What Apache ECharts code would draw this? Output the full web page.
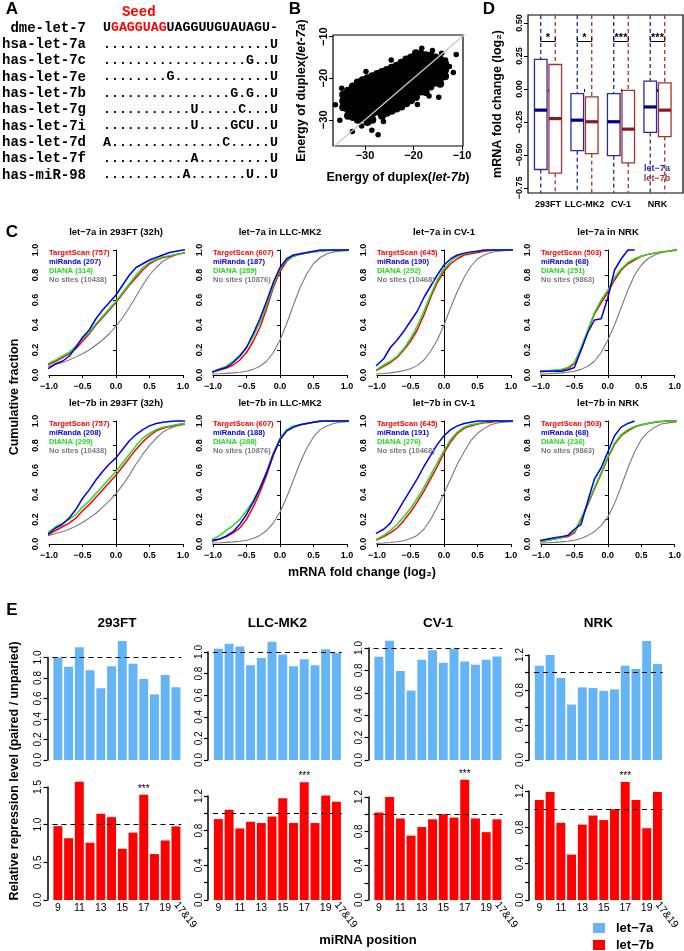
<!DOCTYPE html>
<html><head><meta charset="utf-8">
<script src="https://cdn.jsdelivr.net/npm/echarts@6/dist/echarts.min.js"></script>
<style>html,body{margin:0;padding:0;background:#fff}#c{width:684px;height:951px}</style>
</head><body><div id="c"></div>
<script>
// ================= DATA =================
// Panel A: alignment
const mirNames = ['dme-let-7','hsa-let-7a','has-let-7c','has-let-7e','has-let-7b','has-let-7g','has-let-7i','has-let-7d','has-let-7f','has-miR-98'];
const mirSeqs = [
  'UGAGGUAGUAGGUUGUAUAGU-',
  '.....................U',
  '..................G..U',
  '........G............U',
  '................G.G..U',
  '...........U.....C...U',
  '...........U....GCU..U',
  'A..............C.....U',
  '...........A.........U',
  '..........A.......U..U'
];
const seedStart = 1, seedLen = 7;

// Panel B: duplex energies (let-7b, let-7a)
const bCore = [
[-34.5,-24],[-34.5,-25.5],[-34.5,-27],
[-33.5,-23],[-33.5,-24.5],[-33.5,-26],[-33.5,-27.5],[-33.5,-29],
[-32.5,-22],[-32.5,-23.5],[-32.5,-25],[-32.5,-26.5],[-32.5,-28],[-32.5,-29.3],
[-31.5,-21],[-31.5,-22.5],[-31.5,-24],[-31.5,-25.5],[-31.5,-27],[-31.5,-28.5],[-31.5,-30],
[-30.5,-20.5],[-30.5,-22],[-30.5,-23.5],[-30.5,-25],[-30.5,-26.5],[-30.5,-28],[-30.5,-29.5],
[-29.5,-20],[-29.5,-21.5],[-29.5,-23],[-29.5,-24.5],[-29.5,-26],[-29.5,-27.5],[-29.5,-29],[-29.5,-30.5],
[-28.5,-19.5],[-28.5,-21],[-28.5,-22.5],[-28.5,-24],[-28.5,-25.5],[-28.5,-27],[-28.5,-28.5],[-28.5,-30],
[-27.5,-19],[-27.5,-20.5],[-27.5,-22],[-27.5,-23.5],[-27.5,-25],[-27.5,-26.5],[-27.5,-28],
[-26.5,-18.5],[-26.5,-20],[-26.5,-21.5],[-26.5,-23],[-26.5,-24.5],[-26.5,-26],[-26.5,-27.5],[-26.5,-29],
[-25.5,-18],[-25.5,-19.5],[-25.5,-21],[-25.5,-22.5],[-25.5,-24],[-25.5,-25.5],[-25.5,-27],[-25.5,-28.3],
[-24.5,-17.5],[-24.5,-19],[-24.5,-20.5],[-24.5,-22],[-24.5,-23.5],[-24.5,-25],[-24.5,-26.5],[-24.5,-27.8],
[-23.5,-17],[-23.5,-18.5],[-23.5,-20],[-23.5,-21.5],[-23.5,-23],[-23.5,-24.5],[-23.5,-26],[-23.5,-27.3],
[-22.5,-16.3],[-22.5,-17.8],[-22.5,-19.3],[-22.5,-20.8],[-22.5,-22.3],[-22.5,-23.8],[-22.5,-25.3],[-22.5,-26.8],
[-21.5,-15.5],[-21.5,-17],[-21.5,-18.5],[-21.5,-20],[-21.5,-21.5],[-21.5,-23],[-21.5,-24.5],[-21.5,-26],
[-20.5,-15],[-20.5,-16.5],[-20.5,-18],[-20.5,-19.5],[-20.5,-21],[-20.5,-22.5],[-20.5,-24],[-20.5,-25.3],
[-19.5,-14],[-19.5,-15.5],[-19.5,-17],[-19.5,-18.5],[-19.5,-20],[-19.5,-21.5],[-19.5,-23],[-19.5,-24.5],
[-18.5,-14.2],[-18.5,-15.7],[-18.5,-17.2],[-18.5,-18.7],[-18.5,-20.2],[-18.5,-21.7],[-18.5,-23.2],
[-17.5,-14.5],[-17.5,-16],[-17.5,-17.5],[-17.5,-19],[-17.5,-20.5],[-17.5,-22],[-17.5,-23.3],
[-16.5,-14.6],[-16.5,-16.1],[-16.5,-17.6],[-16.5,-19.1],[-16.5,-20.6],[-16.5,-22],
[-15.5,-15],[-15.5,-16.5],[-15.5,-18],[-15.5,-19.5],[-15.5,-21],
[-14.5,-15.5],[-14.5,-17],[-14.5,-18.5],[-14.5,-20],[-14.5,-21.3],
[-13.5,-16.5],[-13.5,-18],[-13.5,-19.5]
];
const bOut = [[-36.1,-26.4],[-35.2,-30.1],[-34.8,-22.4],[-32.6,-32.8],[-30.7,-31.5],[-28.6,-32.5],[-27.3,-33.6],[-26.2,-30.4],
[-18.3,-12.8],[-16.1,-13.3],[-14.2,-14.0],[-13.4,-15.6],[-12.6,-17.2],[-11.8,-18.6],[-14.8,-24.6],[-16.8,-24.3],[-19.2,-26.3],[-24.6,-15.6],[-29.8,-18.4],[-11.2,-14.3]];
const bDiag = [[-37,-37],[-9,-9]];
const bTicks = [-30,-20,-10];

// Panel D: boxplots
const dCells = ['293FT','LLC-MK2','CV-1','NRK'];
const d7aLo  = [-1.30,-1.10,-1.20,-0.95];
const d7aQ1  = [-0.610,-0.467,-0.505,-0.329];
const d7aMed = [-0.160,-0.236,-0.248,-0.136];
const d7aQ3  = [0.224,-0.035,-0.035,0.060];
const d7aHi  = [1.00,0.65,0.70,0.60];
const d7bLo  = [-1.35,-1.15,-1.30,-1.00];
const d7bQ1  = [-0.638,-0.490,-0.560,-0.360];
const d7bMed = [-0.224,-0.248,-0.304,-0.160];
const d7bQ3  = [0.186,-0.060,-0.010,0.047];
const d7bHi  = [0.95,0.60,0.75,0.60];
const dSig = ['*','*','***','***'];
const dTicks = [-0.75,-0.5,-0.25,0,0.25,0.5];

// Panel C: cumulative distributions
const cdfX = [-1.08,-1.0,-0.9,-0.8,-0.7,-0.6,-0.5,-0.4,-0.3,-0.2,-0.1,0,0.1,0.2,0.3,0.4,0.5,0.6,0.7,0.8,0.9,1.0,1.08];
const cCells = ['293FT (32h)','LLC-MK2','CV-1','NRK'];
const cTS7a = [757,607,645,503], cMR7a = [207,187,190,68], cDI7a = [314,289,292,251], cNS7a = [10438,10876,10468,9863];
const cTS7b = [757,607,645,503], cMR7b = [208,188,191,68], cDI7b = [299,288,276,236], cNS7b = [10438,10876,10468,9863];

const c7a293NS = [0.06,0.07,0.085,0.10,0.12,0.145,0.17,0.20,0.24,0.28,0.33,0.39,0.46,0.54,0.63,0.72,0.80,0.86,0.91,0.94,0.96,0.975,0.98];
const c7a293TS = [0.07,0.085,0.11,0.14,0.17,0.21,0.27,0.33,0.40,0.46,0.52,0.58,0.65,0.72,0.78,0.84,0.89,0.92,0.94,0.95,0.965,0.975,0.98];
const c7a293DI = [0.08,0.095,0.12,0.15,0.18,0.23,0.29,0.34,0.41,0.47,0.53,0.59,0.66,0.73,0.80,0.86,0.90,0.925,0.945,0.955,0.965,0.975,0.98];
const c7a293MR = [0.04,0.055,0.09,0.11,0.15,0.22,0.30,0.36,0.45,0.52,0.58,0.64,0.72,0.80,0.86,0.89,0.92,0.94,0.96,0.98,0.99,1.0,1.0];

const c7aLLCNS = [0.005,0.008,0.01,0.013,0.017,0.022,0.03,0.045,0.07,0.11,0.18,0.28,0.41,0.56,0.70,0.81,0.89,0.94,0.97,0.985,0.99,0.995,1.0];
const c7aLLCTS = [0.02,0.025,0.04,0.055,0.08,0.12,0.18,0.27,0.38,0.53,0.70,0.83,0.91,0.95,0.965,0.975,0.985,0.99,0.995,1.0,1.0,1.0,1.0];
const c7aLLCDI = [0.02,0.03,0.05,0.07,0.11,0.16,0.22,0.31,0.42,0.56,0.72,0.85,0.92,0.95,0.965,0.975,0.985,0.99,0.995,1.0,1.0,1.0,1.0];
const c7aLLCMR = [0.02,0.025,0.045,0.06,0.10,0.15,0.22,0.33,0.45,0.59,0.74,0.86,0.93,0.96,0.97,0.98,0.99,1.0,1.0,1.0,1.0,1.0,1.0];

const c7aCV1NS = [0.005,0.008,0.012,0.017,0.025,0.035,0.05,0.075,0.12,0.19,0.28,0.40,0.54,0.67,0.78,0.87,0.93,0.96,0.98,0.99,0.995,1.0,1.0];
const c7aCV1TS = [0.03,0.04,0.07,0.10,0.14,0.20,0.27,0.36,0.48,0.62,0.74,0.83,0.89,0.93,0.96,0.97,0.98,0.99,0.995,1.0,1.0,1.0,1.0];
const c7aCV1DI = [0.03,0.045,0.08,0.11,0.15,0.21,0.29,0.39,0.51,0.64,0.76,0.85,0.91,0.95,0.97,0.98,0.99,0.995,1.0,1.0,1.0,1.0,1.0];
const c7aCV1MR = [0.06,0.08,0.13,0.22,0.28,0.35,0.43,0.51,0.62,0.71,0.80,0.88,0.93,0.96,0.975,0.985,0.99,1.0,1.0,1.0,1.0,1.0,1.0];

const c7aNRKNS = [0.005,0.007,0.01,0.013,0.017,0.022,0.03,0.045,0.07,0.11,0.18,0.28,0.40,0.54,0.68,0.80,0.88,0.93,0.96,0.98,0.99,0.995,1.0];
const c7aNRKTS = [0.02,0.025,0.03,0.035,0.04,0.05,0.09,0.20,0.35,0.49,0.58,0.66,0.76,0.84,0.89,0.92,0.95,0.965,0.975,0.985,0.99,1.0,1.0];
const c7aNRKDI = [0.02,0.03,0.035,0.04,0.045,0.06,0.10,0.22,0.36,0.50,0.60,0.68,0.78,0.85,0.90,0.93,0.95,0.965,0.975,0.985,0.99,1.0,1.0];
const c7aNRKMR = [0.03,0.03,0.03,0.03,0.03,0.04,0.06,0.20,0.34,0.44,0.45,0.62,0.84,0.93,1.0,1.0,null,null,null,null,null,null,null];

const c7b293NS = [0.06,0.07,0.085,0.10,0.12,0.145,0.175,0.21,0.25,0.30,0.35,0.41,0.48,0.56,0.65,0.73,0.80,0.86,0.91,0.94,0.96,0.97,0.975];
const c7b293TS = [0.07,0.08,0.11,0.14,0.17,0.21,0.27,0.32,0.38,0.44,0.50,0.56,0.63,0.70,0.77,0.83,0.88,0.92,0.94,0.955,0.965,0.975,0.98];
const c7b293DI = [0.08,0.10,0.14,0.17,0.20,0.24,0.30,0.35,0.41,0.47,0.53,0.59,0.66,0.73,0.80,0.86,0.90,0.93,0.95,0.96,0.97,0.98,0.98];
const c7b293MR = [0.07,0.085,0.13,0.16,0.21,0.28,0.37,0.44,0.52,0.59,0.65,0.70,0.77,0.84,0.89,0.93,0.96,0.98,0.99,0.995,1.0,1.0,1.0];

const c7bLLCNS = [0.005,0.008,0.01,0.013,0.017,0.022,0.03,0.045,0.07,0.11,0.17,0.26,0.38,0.52,0.66,0.78,0.87,0.93,0.96,0.98,0.99,0.995,1.0];
const c7bLLCTS = [0.02,0.025,0.04,0.06,0.09,0.13,0.20,0.30,0.42,0.56,0.72,0.85,0.92,0.95,0.97,0.98,0.99,0.995,1.0,1.0,1.0,1.0,1.0];
const c7bLLCDI = [0.03,0.04,0.07,0.11,0.15,0.20,0.27,0.35,0.46,0.59,0.74,0.86,0.93,0.96,0.97,0.98,0.99,0.995,1.0,1.0,1.0,1.0,1.0];
const c7bLLCMR = [0.02,0.03,0.04,0.065,0.10,0.16,0.24,0.34,0.45,0.58,0.73,0.85,0.92,0.95,0.97,0.98,0.99,1.0,1.0,1.0,1.0,1.0,1.0];

const c7bCV1NS = [0.003,0.005,0.008,0.012,0.018,0.027,0.045,0.07,0.12,0.20,0.30,0.41,0.53,0.65,0.75,0.84,0.90,0.94,0.97,0.985,0.99,0.995,1.0];
const c7bCV1TS = [0.03,0.035,0.06,0.09,0.13,0.19,0.26,0.34,0.43,0.53,0.63,0.74,0.83,0.90,0.94,0.96,0.975,0.985,0.99,1.0,1.0,1.0,1.0];
const c7bCV1DI = [0.03,0.04,0.07,0.11,0.16,0.22,0.29,0.37,0.46,0.56,0.66,0.76,0.85,0.91,0.95,0.97,0.98,0.99,1.0,1.0,1.0,1.0,1.0];
const c7bCV1MR = [0.07,0.09,0.12,0.17,0.26,0.35,0.44,0.53,0.63,0.72,0.81,0.88,0.93,0.96,0.98,0.99,1.0,1.0,1.0,1.0,1.0,1.0,1.0];

const c7bNRKNS = [0.005,0.007,0.01,0.013,0.017,0.022,0.03,0.045,0.07,0.10,0.15,0.22,0.33,0.47,0.62,0.75,0.85,0.91,0.95,0.975,0.985,0.99,0.995];
const c7bNRKTS = [0.015,0.02,0.03,0.04,0.05,0.06,0.09,0.20,0.32,0.45,0.57,0.70,0.81,0.88,0.92,0.95,0.97,0.98,0.99,0.995,1.0,1.0,1.0];
const c7bNRKDI = [0.015,0.02,0.03,0.04,0.05,0.07,0.10,0.21,0.33,0.46,0.58,0.71,0.82,0.89,0.93,0.955,0.97,0.98,0.99,0.995,1.0,1.0,1.0];
const c7bNRKMR = [0.025,0.03,0.04,0.05,0.06,0.07,0.12,0.16,0.35,0.53,0.62,0.75,0.88,0.95,0.98,1.0,null,null,null,null,null,null,null];

// Panel E: relative repression
const ePos = ['9','10','11','12','13','14','15','16','17','18','19','17&19'];
const eCells = ['293FT','LLC-MK2','CV-1','NRK'];
const e7a293 = [1.00,0.91,1.10,0.876,0.70,0.915,1.16,0.94,0.79,0.64,0.83,0.71];
const e7aLLC = [1.03,1.077,1.05,0.877,0.945,1.095,0.976,0.868,0.932,0.877,1.025,0.99];
const e7aCV1 = [0.922,1.065,0.794,0.62,0.895,0.979,0.868,0.994,0.88,0.85,0.895,0.925];
const e7aNRK = [1.077,1.20,0.938,0.634,0.83,0.822,0.79,0.807,1.077,1.04,1.36,1.096];
const e7b293 = [0.98,0.82,1.57,0.76,1.145,1.10,0.68,0.894,1.396,0.61,0.79,0.977];
const e7bLLC = [0.933,1.04,0.826,0.903,0.888,0.963,1.173,0.888,1.36,0.888,1.207,1.135];
const e7bCV1 = [1.02,1.20,0.95,0.75,0.85,0.94,1.00,0.96,1.40,0.95,0.79,0.94];
const e7bNRK = [1.10,1.19,0.85,0.50,0.83,0.93,0.88,1.00,1.30,1.10,0.79,1.19];
const eSig = ['17'];
const eTicks02 = [0,0.2,0.4,0.6,0.8,1.0];
const eTicks04 = [0,0.4,0.8,1.2];
const eTicks02to12 = [0,0.2,0.4,0.6,0.8,1.0,1.2];
const eTicks05 = [0,0.5,1.0,1.5];

// ================= RENDER =================
const SANS = "'Liberation Sans', Arial, Helvetica, sans-serif";
const MONO = "'Liberation Mono', 'DejaVu Sans Mono', monospace";
const sgn = (v,d) => (v < 0 ? '\u2212' : '') + Math.abs(v).toFixed(d);
const RED = '#ff0000', BLUE = '#0000ee', GREEN = '#22dd22', GRAY = '#7a7a7a';
const opt = {animation:false, backgroundColor:'#fff', grid:[], xAxis:[], yAxis:[], series:[], graphic:[]};
function T(x, y, text, font, color, align, va, rot) {
  return {type:'text', x:x, y:y, rotation:rot||0, silent:true, z:50,
    style:{text:text, font:font, fill:color||'#000', textAlign:align||'center', textVerticalAlign:va||'middle'}};
}
const G = opt.graphic;

// panel letters
G.push(T(12,9,'A','bold 17px '+SANS));
G.push(T(295,9,'B','bold 17px '+SANS));
G.push(T(489,9,'D','bold 17px '+SANS));
G.push(T(12,232,'C','bold 17px '+SANS));
G.push(T(12,610,'E','bold 17px '+SANS));

// ----- A -----
const aCh = 7.95, aX = 103;
G.push(T(aX + (seedStart + seedLen/2)*aCh, 12, 'Seed', 'bold 14px '+MONO, RED));
mirNames.forEach((n,i) => {
  const y = 28 + i*16.33;
  G.push(T(86, y, n, 'bold 14px '+MONO, '#000', 'right'));
  const s = mirSeqs[i];
  if (i === 0) {
    G.push(T(aX, y, s.slice(0,seedStart), 'bold 13.25px '+MONO, '#000', 'left'));
    G.push(T(aX + seedStart*aCh, y, s.slice(seedStart, seedStart+seedLen), 'bold 13.25px '+MONO, RED, 'left'));
    G.push(T(aX + (seedStart+seedLen)*aCh, y, s.slice(seedStart+seedLen), 'bold 13.25px '+MONO, '#000', 'left'));
  } else {
    G.push(T(aX, y, s, 'bold 13.25px '+MONO, '#000', 'left'));
  }
});

// ----- B -----
{
  const gi = opt.grid.push({left:333, top:35, width:130, height:111, show:true, borderColor:'#000', borderWidth:1.2}) - 1;
  const rich = {b:{fontSize:12.5,fontWeight:'bold',fontFamily:SANS,color:'#000'}, i:{fontSize:12.5,fontWeight:'bold',fontStyle:'italic',fontFamily:SANS,color:'#000'}};
  opt.xAxis.push({gridIndex:gi, type:'value', min:-36.6, max:-9.8, axisLine:{show:false}, splitLine:{show:false},
    axisTick:{show:true, customValues:bTicks, length:4, lineStyle:{color:'#000'}},
    axisLabel:{customValues:bTicks, formatter:v=>sgn(v,0), fontSize:11, fontWeight:'bold', color:'#000', margin:4, fontFamily:SANS},
    name:'{b|Energy of duplex(}{i|let-7b}{b|)}', nameLocation:'middle', nameGap:25, nameTextStyle:{rich:rich}});
  opt.yAxis.push({gridIndex:gi, type:'value', min:-36.3, max:-9.6, axisLine:{show:false}, splitLine:{show:false},
    axisTick:{show:true, customValues:bTicks, length:4, lineStyle:{color:'#000'}},
    axisLabel:{customValues:bTicks, formatter:v=>sgn(v,0), rotate:90, fontSize:11, fontWeight:'bold', color:'#000', margin:4, fontFamily:SANS},
    name:'{b|Energy of duplex(}{i|let-7a}{b|)}', nameLocation:'middle', nameGap:25, nameTextStyle:{rich:rich}});
  const xi = opt.xAxis.length-1, yi = opt.yAxis.length-1;
  opt.series.push({type:'scatter', xAxisIndex:xi, yAxisIndex:yi, data:bCore, symbolSize:8, itemStyle:{color:'#000', opacity:1}, silent:true, z:2});
  opt.series.push({type:'scatter', xAxisIndex:xi, yAxisIndex:yi, data:bOut, symbolSize:5.5, itemStyle:{color:'#000', opacity:1}, silent:true, z:2});
  opt.series.push({type:'line', xAxisIndex:xi, yAxisIndex:yi, data:bDiag, showSymbol:false, lineStyle:{color:'#c8c8c8', width:1.3}, silent:true, z:3, clip:true});
}

// ----- D -----
{
  const gi = opt.grid.push({left:528, top:15, width:155, height:178, show:true, borderColor:'#000', borderWidth:1.2}) - 1;
  opt.xAxis.push({gridIndex:gi, type:'value', min:0.452, max:4.699, axisLine:{show:false}, splitLine:{show:false},
    axisTick:{show:true, customValues:[1,2,3,4], length:3, lineStyle:{color:'#000'}},
    axisLabel:{customValues:[1,2,3,4], formatter:v=>dCells[Math.round(v)-1], fontSize:9, fontWeight:'bold', color:'#000', margin:7, fontFamily:SANS}});
  opt.yAxis.push({gridIndex:gi, type:'value', min:-0.788, max:0.561, axisLine:{show:false}, splitLine:{show:false},
    axisTick:{show:true, customValues:dTicks, length:4, lineStyle:{color:'#000'}},
    axisLabel:{customValues:dTicks, formatter:v=>sgn(v,2), rotate:90, fontSize:9, fontWeight:'bold', color:'#000', margin:4, fontFamily:SANS},
    name:'mRNA fold change (log\u2082)', nameLocation:'middle', nameGap:24, nameTextStyle:{fontSize:12.5, fontWeight:'bold', fontFamily:SANS, color:'#000'}});
  const xi = opt.xAxis.length-1, yi = opt.yAxis.length-1;
  const mk = (off, col, medCol) => (params, api) => {
    const cs = params.coordSys;
    const x = api.coord([api.value(0), 0])[0] + off;
    const cy = v => Math.max(cs.y, Math.min(cs.y + cs.height, api.coord([0, v])[1]));
    const yLo = cy(api.value(1)), yQ1 = cy(api.value(2)), yMed = cy(api.value(3)), yQ3 = cy(api.value(4)), yHi = cy(api.value(5));
    const hw = 6.3;
    return {type:'group', children:[
      {type:'line', shape:{x1:x,y1:yHi,x2:x,y2:yQ3}, style:{stroke:col, lineWidth:1.3, lineDash:[4,3]}},
      {type:'line', shape:{x1:x,y1:yQ1,x2:x,y2:yLo}, style:{stroke:col, lineWidth:1.3, lineDash:[4,3]}},
      {type:'rect', shape:{x:x-hw, y:yQ3, width:2*hw, height:yQ1-yQ3}, style:{fill:'#fff', stroke:col, lineWidth:1.3}},
      {type:'line', shape:{x1:x-hw,y1:yMed,x2:x+hw,y2:yMed}, style:{stroke:medCol, lineWidth:3.2}}
    ]};
  };
  opt.series.push({type:'custom', name:'let-7a box', xAxisIndex:xi, yAxisIndex:yi, silent:true,
    data:dCells.map((c,i)=>[i+1, d7aLo[i], d7aQ1[i], d7aMed[i], d7aQ3[i], d7aHi[i]]), renderItem:mk(-7.25, '#2b2ba3', '#00008b')});
  opt.series.push({type:'custom', name:'let-7b box', xAxisIndex:xi, yAxisIndex:yi, silent:true,
    data:dCells.map((c,i)=>[i+1, d7bLo[i], d7bQ1[i], d7bMed[i], d7bQ3[i], d7bHi[i]]), renderItem:mk(7.25, '#a83232', '#8b1a1a')});
  opt.series.push({type:'custom', name:'sig', xAxisIndex:xi, yAxisIndex:yi, silent:true,
    data:dSig.map((s,i)=>[i+1, s]), renderItem:(params, api) => {
      const xc = api.coord([api.value(0), 0.36]);
      const x1 = xc[0]-7.25, x2 = xc[0]+7.25, y = xc[1];
      return {type:'group', children:[
        {type:'line', shape:{x1:x1,y1:y,x2:x2,y2:y}, style:{stroke:'#000', lineWidth:1}},
        {type:'line', shape:{x1:x1,y1:y-4,x2:x1,y2:y}, style:{stroke:'#000', lineWidth:1}},
        {type:'line', shape:{x1:x2,y1:y-4,x2:x2,y2:y}, style:{stroke:'#000', lineWidth:1}},
        {type:'text', x:xc[0], y:y+2, style:{text:dSig[params.dataIndex], font:'bold 11px '+SANS, fill:'#000', textAlign:'center', textVerticalAlign:'bottom'}}
      ]};
    }});
  G.push(T(657,169,'let\u22127a','bold 9px '+SANS,'#2b2ba3'));
  G.push(T(657,179,'let\u22127b','bold 9px '+SANS,'#a83232'));
}

// ----- C -----
const cCurves7a = [[c7a293NS,c7a293TS,c7a293DI,c7a293MR],[c7aLLCNS,c7aLLCTS,c7aLLCDI,c7aLLCMR],[c7aCV1NS,c7aCV1TS,c7aCV1DI,c7aCV1MR],[c7aNRKNS,c7aNRKTS,c7aNRKDI,c7aNRKMR]];
const cCurves7b = [[c7b293NS,c7b293TS,c7b293DI,c7b293MR],[c7bLLCNS,c7bLLCTS,c7bLLCDI,c7bLLCMR],[c7bCV1NS,c7bCV1TS,c7bCV1DI,c7bCV1MR],[c7bNRKNS,c7bNRKTS,c7bNRKDI,c7bNRKMR]];
const cLeft = [49,213,377,541], cW = 134, cTop = [250,421], cH = [125,123];
const cCols = [GRAY, RED, GREEN, BLUE];
const cWid = [1.1, 1.5, 1.5, 1.5];
[0,1].forEach(r => {
  cCells.forEach((cell,p) => {
    const gi = opt.grid.push({left:cLeft[p], top:cTop[r], width:cW, height:cH[r]}) - 1;
    opt.xAxis.push({gridIndex:gi, type:'value', min:-1, max:1, interval:0.5, offset:5, splitLine:{show:false},
      axisLine:{show:true, lineStyle:{color:'#000', width:1}}, axisTick:{show:true, length:3, lineStyle:{color:'#000'}},
      axisLabel:{formatter:v=>sgn(v,1), fontSize:9, fontWeight:'bold', color:'#000', margin:2, fontFamily:SANS, showMinLabel:true, showMaxLabel:true}});
    opt.yAxis.push({gridIndex:gi, type:'value', min:0, max:1, interval:0.2, offset:5, splitLine:{show:false},
      axisLine:{show:true, lineStyle:{color:'#000', width:1}}, axisTick:{show:true, length:3, lineStyle:{color:'#000'}},
      axisLabel:{formatter:v=>v.toFixed(1), rotate:90, fontSize:9, fontWeight:'bold', color:'#000', margin:4, fontFamily:SANS}});
    const xi = opt.xAxis.length-1, yi = opt.yAxis.length-1;
    const curves = r === 0 ? cCurves7a[p] : cCurves7b[p];
    curves.forEach((arr,k) => {
      const data = [];
      arr.forEach((v,j) => { if (v !== null) data.push([cdfX[j], v]); });
      opt.series.push({type:'line', xAxisIndex:xi, yAxisIndex:yi, data:data, showSymbol:false, clip:false, silent:true,
        lineStyle:{color:cCols[k], width:cWid[k]}, z:2+k});
    });
    const tcx = cLeft[p] + cW/2;
    G.push(T(tcx, cTop[r]-18, 'let\u22127' + (r? 'b':'a') + ' in ' + cell, 'bold 9.5px '+SANS));
    const counts = r === 0 ? [cTS7a[p], cMR7a[p], cDI7a[p], cNS7a[p]] : [cTS7b[p], cMR7b[p], cDI7b[p], cNS7b[p]];
    const labs = ['TargetScan','miRanda','DIANA','No sites'];
    const lcol = [RED, BLUE, GREEN, GRAY];
    labs.forEach((l,k) => G.push(T(cLeft[p], cTop[r]+3+k*9, l+' ('+counts[k]+')', 'bold 7.6px '+SANS, lcol[k], 'left')));
  });
});
G.push(T(15, 397, 'Cumulative fraction', 'bold 12.5px '+SANS, '#000', 'center', 'middle', Math.PI/2));
G.push(T(362, 573, 'mRNA fold change (log\u2082)', 'bold 12.5px '+SANS));

// ----- E -----
const eTopData = [e7a293, e7aLLC, e7aCV1, e7aNRK];
const eBotData = [e7b293, e7bLLC, e7bCV1, e7bNRK];
const eAx = [47.5, 208, 368.5, 529];
const eTopCfg = [{top:657.5,max:1.0,lab:eTicks02,tick:eTicks02},{top:652,max:1.0,lab:eTicks02,tick:eTicks02},{top:648,max:1.0,lab:eTicks02,tick:eTicks02},{top:655,max:1.2,lab:eTicks04,tick:eTicks02to12}];
const eBotCfg = [{top:787,max:1.5,lab:eTicks05,tick:eTicks05},{top:796,max:1.2,lab:eTicks04,tick:eTicks02to12},{top:797,max:1.2,lab:eTicks04,tick:eTicks02to12},{top:791,max:1.2,lab:eTicks04,tick:eTicks02to12}];
[0,1].forEach(r => {
  eCells.forEach((cell,p) => {
    const cfg = r === 0 ? eTopCfg[p] : eBotCfg[p];
    const bottom = r === 0 ? 760 : 900;
    const gi = opt.grid.push({left:eAx[p]+5, width:128.8, top:cfg.top, height:bottom-cfg.top}) - 1;
    if (r === 0) {
      opt.xAxis.push({gridIndex:gi, type:'category', data:ePos, show:false});
    } else {
      opt.xAxis.push({gridIndex:gi, type:'category', data:ePos, axisLine:{show:false}, axisTick:{show:false},
        axisLabel:{interval:(i)=> i%2===0 && i<11, fontSize:10.5, color:'#000', margin:3, fontFamily:SANS}});
    }
    const xi = opt.xAxis.length-1;
    if (r === 1) {
      opt.xAxis.push({gridIndex:gi, type:'category', data:ePos, position:'bottom', axisLine:{show:false}, axisTick:{show:false},
        axisLabel:{interval:(i)=> i===11, rotate:-52, fontSize:10.5, color:'#000', margin:3, fontFamily:SANS}});
    }
    opt.yAxis.push({gridIndex:gi, type:'value', min:0, max:cfg.max, offset:5, splitLine:{show:false},
      axisLine:{show:true, lineStyle:{color:'#000', width:1.5}}, axisTick:{show:true, customValues:cfg.tick, length:4, lineStyle:{color:'#000', width:1.2}},
      axisLabel:{customValues:cfg.lab, formatter:v=>v.toFixed(1), rotate:90, fontSize:10, color:'#000', margin:4, fontFamily:SANS}});
    const yi = opt.yAxis.length-1;
    const name = r === 0 ? 'let\u22127a' : 'let\u22127b';
    const s = {type:'bar', name:name, xAxisIndex:xi, yAxisIndex:yi, data:(r===0?eTopData:eBotData)[p], clip:false,
      barCategoryGap:'16.7%', itemStyle:{color: r===0 ? '#64b4f6' : '#ff0000'}, silent:true,
      markLine:{silent:true, symbol:['none','none'], data:[{yAxis:1}], label:{show:false}, lineStyle:{type:[5,4], color:'#000', width:1.2}}};
    if (r === 1) s.label = {show:true, position:'top', distance:1, fontSize:10, color:'#000', fontFamily:SANS, formatter:q => eSig.indexOf(q.name) >= 0 ? '***' : ''};
    opt.series.push(s);
    if (r === 0) G.push(T(eAx[p]+5+64.4, 623, cell, 'bold 13.5px '+SANS));
  });
});
G.push(T(15, 771, 'Relative repression level (paired / unparied)', 'bold 12.5px '+SANS, '#000', 'center', 'middle', Math.PI/2));
G.push(T(368, 940, 'miRNA position', 'bold 13px '+SANS));
opt.legend = {data:['let\u22127a','let\u22127b'], orient:'vertical', left:593, top:921, height:40, padding:0, itemWidth:12, itemHeight:10, itemGap:3, icon:'rect',
  selectedMode:false, textStyle:{fontSize:13, fontWeight:'bold', fontFamily:SANS, color:'#000', lineHeight:14, padding:[0,0,0,6]}};

const chart = echarts.init(document.getElementById('c'), null, {renderer:'canvas'});
chart.setOption(opt);
</script>
</body></html>
